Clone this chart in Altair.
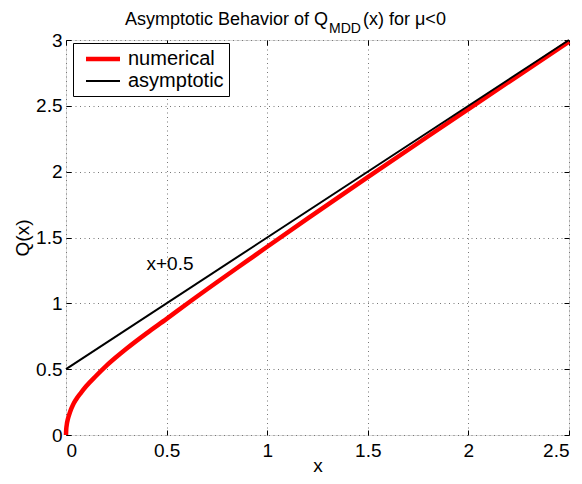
import altair as alt
import pandas as pd

# numerical solution
num_x = [0, 0.001, 0.004, 0.01, 0.02, 0.035, 0.05, 0.075, 0.1, 0.15, 0.2, 0.25,
         0.3, 0.4, 0.5, 0.6, 0.75, 0.9, 1.0, 1.2, 1.5, 1.8, 2.0, 2.25, 2.5]
num_y = [0, 0.04, 0.08, 0.125, 0.175, 0.23, 0.27, 0.322, 0.37, 0.45, 0.525, 0.592,
         0.655, 0.772, 0.882, 0.995, 1.16, 1.322, 1.43, 1.643, 1.958, 2.269, 2.475,
         2.732, 2.988]
# asymptote x + 0.5
asy_x = [0, 2.5]
asy_y = [0.5, 3.0]

series_names = ["numerical", "asymptotic"]
series_colors = ["#ff0000", "#000000"]
series_widths = [4.5, 2]

label_text = ["x+0.5"]
label_x = [0.4]
label_y = [1.25]

x_ticks = [0, 0.5, 1, 1.5, 2, 2.5]
y_ticks = [0, 0.5, 1, 1.5, 2, 2.5, 3]

W, H = 503, 395
FONT = "Liberation Sans"

num_df = pd.DataFrame({"x": num_x, "y": num_y, "series": "numerical"})
asy_df = pd.DataFrame({"x": asy_x, "y": asy_y, "series": "asymptotic"})
lab_df = pd.DataFrame({"x": label_x, "y": label_y, "t": label_text})

xscale = alt.Scale(domain=[0, 2.5], nice=False, zero=False)
yscale = alt.Scale(domain=[0, 3], nice=False, zero=False)
cscale = alt.Scale(domain=series_names, range=series_colors)
wscale = alt.Scale(domain=series_names, range=series_widths)

legend = alt.Legend(title=None, orient="none", legendX=7, legendY=3,
                    strokeColor="black", fillColor="white", padding=5,
                    symbolType="M-2,0H2", symbolSize=289, labelFontSize=20,
                    labelFont=FONT, labelOffset=14, rowPadding=2,
                    symbolOffset=14, labelColor="black",
                    labelExpr="datum.label + ' '")

tick_common = dict(ticks=True, tickSize=5, tickColor="black", labels=False,
                   domain=False, grid=False, title=None)

# layer 1: numerical line, main axes with labels and grid
l1 = alt.Chart(num_df).mark_line(interpolate="monotone").encode(
    x=alt.X("x:Q", scale=xscale,
            axis=alt.Axis(orient="bottom", values=x_ticks, format="~g",
                          ticks=False, tickSize=0, labelPadding=6, domain=False,
                          grid=True, gridDash=[1, 3.5], gridColor="#777777",
                          labelFontSize=19, labelFont=FONT, labelColor="black",
                          title="x", titleFontSize=19, titleFont=FONT,
                          titleFontWeight="normal", titleColor="black",
                          titleBaseline="alphabetic", titleY=36)),
    y=alt.Y("y:Q", scale=yscale,
            axis=alt.Axis(orient="left", values=y_ticks, format="~g",
                          ticks=False, tickSize=0, labelPadding=4, domain=False,
                          grid=True, gridDash=[1, 3.5], gridColor="#777777",
                          labelFontSize=19, labelFont=FONT, labelColor="black",
                          labelBaseline="middle",
                          title="Q(x)", titleFontSize=19, titleFont=FONT,
                          titleFontWeight="normal", titleColor="black",
                          titlePadding=3)),
    color=alt.Color("series:N", scale=cscale, legend=legend),
    strokeWidth=alt.StrokeWidth("series:N", scale=wscale, legend=legend),
)

# layer 2: asymptote, inward ticks on bottom and left edges
l2 = alt.Chart(asy_df).mark_line().encode(
    x=alt.X("x:Q", scale=xscale,
            axis=alt.Axis(orient="top", offset=-H, values=x_ticks, **tick_common)),
    y=alt.Y("y:Q", scale=yscale,
            axis=alt.Axis(orient="right", offset=-W, values=y_ticks, **tick_common)),
    color=alt.Color("series:N", scale=cscale, legend=legend),
    strokeWidth=alt.StrokeWidth("series:N", scale=wscale, legend=legend),
)

# layer 3: annotation, inward ticks on top and right edges
l3 = alt.Chart(lab_df).mark_text(align="left", baseline="alphabetic",
                                 fontSize=19, font=FONT, color="black").encode(
    x=alt.X("x:Q", scale=xscale,
            axis=alt.Axis(orient="bottom", offset=-H, values=x_ticks, **tick_common)),
    y=alt.Y("y:Q", scale=yscale,
            axis=alt.Axis(orient="left", offset=-W, values=y_ticks, **tick_common)),
    text="t:N",
)

one = pd.DataFrame({"a": [0]})
t1 = alt.Chart(one).mark_text(text="Asymptotic Behavior of Q", align="right",
                              baseline="alphabetic", fontSize=18, font=FONT,
                              color="black").encode(x=alt.value(262), y=alt.value(-15))
t2 = alt.Chart(one).mark_text(text="MDD", align="left", baseline="alphabetic",
                              fontSize=14, font=FONT,
                              color="black").encode(x=alt.value(263), y=alt.value(-7))
t3 = alt.Chart(one).mark_text(text="(x) for μ<0", align="left", baseline="alphabetic",
                              fontSize=18, font=FONT,
                              color="black").encode(x=alt.value(297), y=alt.value(-15))

chart = alt.layer(l1, l2, l3, t1, t2, t3).resolve_axis(
    x="independent", y="independent"
).properties(
    width=W, height=H,
    autosize=alt.AutoSizeParams(type="none"),
    padding={"left": 58, "top": 32, "right": 4, "bottom": 41},
).configure_view(stroke="black", strokeWidth=1.2).configure(background="white")

chart.save("out.html", embed_options={"renderer": "svg", "actions": False})
